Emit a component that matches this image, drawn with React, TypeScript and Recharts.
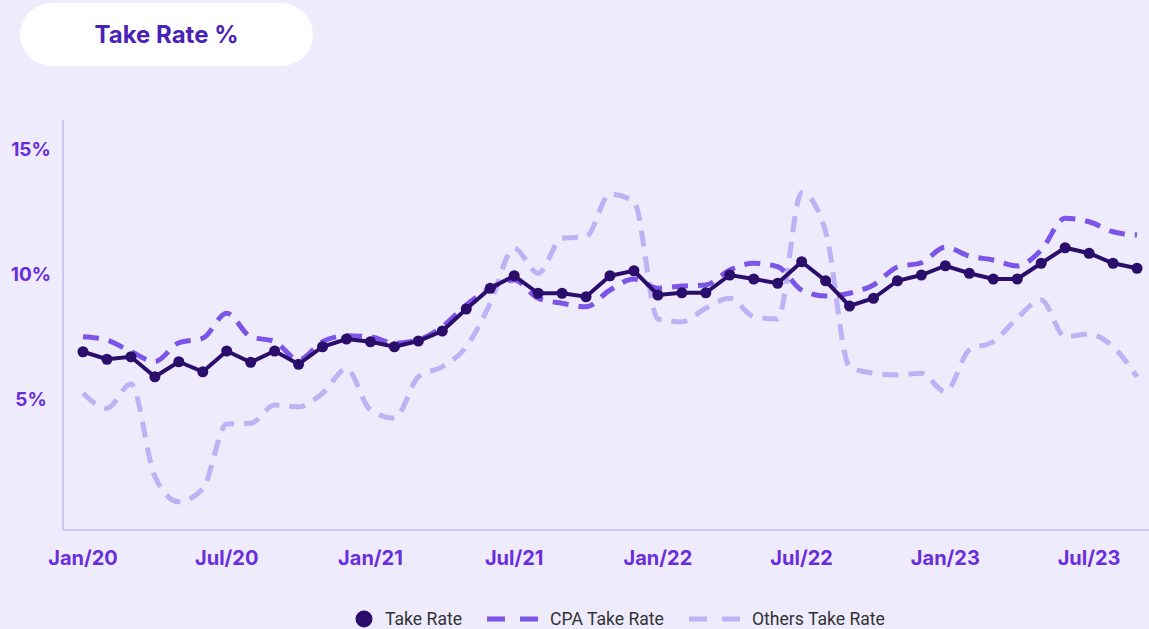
import React from "react";
import { LineChart, Line, XAxis, YAxis } from "recharts";

const months = [
  "Jan/20", "Feb/20", "Mar/20", "Apr/20", "May/20", "Jun/20", "Jul/20", "Aug/20", "Sep/20", "Oct/20", "Nov/20", "Dec/20",
  "Jan/21", "Feb/21", "Mar/21", "Apr/21", "May/21", "Jun/21", "Jul/21", "Aug/21", "Sep/21", "Oct/21", "Nov/21", "Dec/21",
  "Jan/22", "Feb/22", "Mar/22", "Apr/22", "May/22", "Jun/22", "Jul/22", "Aug/22", "Sep/22", "Oct/22", "Nov/22", "Dec/22",
  "Jan/23", "Feb/23", "Mar/23", "Apr/23", "May/23", "Jun/23", "Jul/23", "Aug/23", "Sep/23",
];

const takeRate = [
  6.89, 6.59, 6.69, 5.89, 6.49, 6.09, 6.92, 6.47, 6.92, 6.39, 7.09, 7.4,
  7.29, 7.09, 7.32, 7.72, 8.6, 9.43, 9.93, 9.23, 9.23, 9.09, 9.93, 10.13,
  9.16, 9.25, 9.25, 9.96, 9.8, 9.63, 10.49, 9.73, 8.72, 9.03, 9.73, 9.96,
  10.33, 10.03, 9.8, 9.8, 10.43, 11.05, 10.83, 10.43, 10.23,
];

const cpaTakeRate = [
  7.49, 7.36, 6.9, 6.5, 7.25, 7.43, 8.43, 7.49, 7.3, 6.56, 7.29, 7.53,
  7.49, 7.23, 7.36, 7.89, 8.76, 9.43, 9.76, 9.03, 8.83, 8.69, 9.36, 9.8,
  9.43, 9.52, 9.56, 10.16, 10.43, 10.29, 9.36, 9.12, 9.23, 9.56, 10.28, 10.45,
  11.07, 10.72, 10.56, 10.32, 10.96, 12.23, 12.09, 11.69, 11.56,
];

const othersTakeRate = [
  5.23, 4.63, 5.6, 1.9, 0.89, 1.4, 4.0, 4.03, 4.76, 4.69, 5.23, 6.2,
  4.56, 4.23, 5.89, 6.29, 7.09, 8.83, 11.03, 10.03, 11.43, 11.49, 13.2, 12.9,
  8.2, 8.09, 8.63, 9.03, 8.3, 8.2, 13.25, 11.7, 6.29, 6.03, 5.96, 6.03,
  5.29, 6.96, 7.29, 8.23, 8.96, 7.49, 7.6, 7.09, 5.89,
];

const yTicks = [5, 10, 15];

const data = months.map((m, i) => ({
  month: m,
  takeRate: takeRate[i],
  cpa: cpaTakeRate[i],
  others: othersTakeRate[i],
}));

const BG = "#EEEBFD";
const AXIS = "#CEC6F6";
const LABEL = "#6A2DDB";
const DARK = "#2B0D6B";
const MID = "#7B54E8";
const LIGHT = "#BDB2F5";

const YTick = (props: any) => {
  const { y, payload } = props;
  return (
    <text x={31} y={y} dy={7} textAnchor="middle" fill={LABEL} fontSize={19} fontWeight={700} fontFamily="Inter">
      {payload.value}%
    </text>
  );
};

const XTick = (props: any) => {
  const { x, y, payload } = props;
  return (
    <text x={x} y={y} dy={15} textAnchor="middle" fill={LABEL} fontSize={20} fontWeight={700} fontFamily="Inter">
      {payload.value}
    </text>
  );
};

function LegendItem({ label, icon }: { label: string; icon: React.ReactNode }) {
  return (
    <div style={{ display: "flex", alignItems: "center", gap: 12 }}>
      {icon}
      <span>{label}</span>
    </div>
  );
}

const dashIcon = (color: string) => (
  <svg width={51} height={8}>
    <line x1={0} y1={4} x2={51} y2={4} stroke={color} strokeWidth={5} strokeDasharray="18 15" />
  </svg>
);

export default function App() {
  return (
    <div style={{ position: "absolute", left: 0, top: 0, width: 1149, height: 629, background: BG, overflow: "hidden" }}>
      <div
        style={{
          position: "absolute",
          left: 20,
          top: 3,
          width: 293,
          height: 63,
          borderRadius: 32,
          background: "#FFFFFF",
          display: "flex",
          alignItems: "center",
          justifyContent: "center",
          fontFamily: "Inter",
          fontWeight: 700,
          fontSize: 24,
          color: "#4A22B6",
        }}
      >
        Take Rate %
      </div>
      <LineChart width={1149} height={629} data={data} margin={{ top: 120, right: 0, left: 0, bottom: 0 }}>
        <XAxis
          dataKey="month"
          height={99}
          interval={5}
          tickLine={false}
          tickSize={0}
          tickMargin={20}
          padding={{ left: 20, right: 12 }}
          axisLine={{ stroke: AXIS, strokeWidth: 2 }}
          tick={<XTick />}
        />
        <YAxis
          width={63}
          domain={[-0.24, 16.16]}
          ticks={yTicks}
          tickLine={false}
          axisLine={{ stroke: AXIS, strokeWidth: 2 }}
          tick={<YTick />}
        />
        <Line
          type="monotone"
          dataKey="others"
          stroke={LIGHT}
          strokeWidth={5}
          strokeDasharray="16 10"
          dot={false}
          isAnimationActive={false}
        />
        <Line
          type="monotone"
          dataKey="cpa"
          stroke={MID}
          strokeWidth={5}
          strokeDasharray="16 10"
          dot={false}
          isAnimationActive={false}
        />
        <Line
          type="linear"
          dataKey="takeRate"
          stroke={DARK}
          strokeWidth={4}
          dot={{ r: 5.5, fill: DARK, stroke: DARK, strokeWidth: 0 }}
          isAnimationActive={false}
        />
      </LineChart>
      <div
        style={{
          position: "absolute",
          left: 355,
          top: 607,
          height: 24,
          display: "flex",
          alignItems: "center",
          gap: 25,
          fontFamily: "Roboto",
          fontSize: 17.6,
          color: "#333333",
        }}
      >
        <LegendItem
          label="Take Rate"
          icon={<svg width={18} height={18}><circle cx={9} cy={9} r={8.5} fill={DARK} /></svg>}
        />
        <LegendItem label="CPA Take Rate" icon={dashIcon(MID)} />
        <LegendItem label="Others Take Rate" icon={dashIcon(LIGHT)} />
      </div>
    </div>
  );
}
